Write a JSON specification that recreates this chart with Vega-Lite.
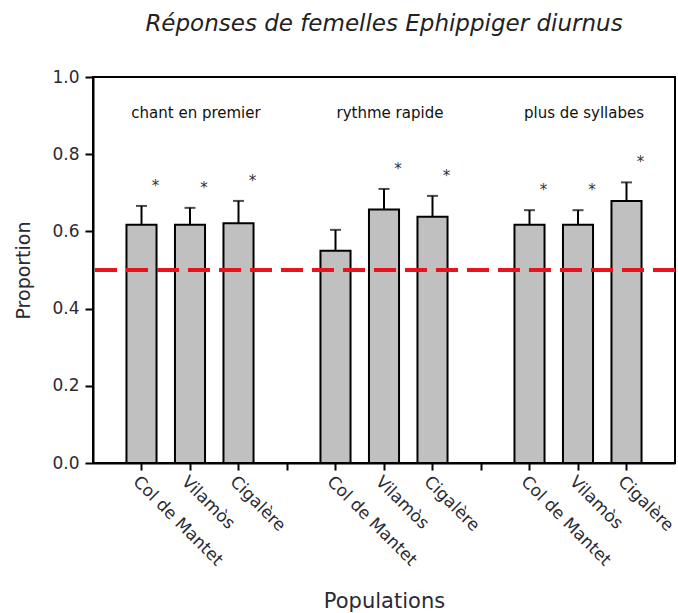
{
  "$schema": "https://vega.github.io/schema/vega-lite/v6.json",
  "width": 582,
  "height": 386,
  "autosize": {"type": "none"},
  "padding": {"left": 93, "top": 77, "right": 3, "bottom": 150},
  "title": {
    "text": "Réponses de femelles Ephippiger diurnus",
    "font": "DejaVu Sans",
    "fontSize": 23,
    "fontStyle": "italic",
    "fontWeight": "normal",
    "color": "#222222",
    "anchor": "middle",
    "offset": 32
  },
  "config": {
    "font": "DejaVu Sans",
    "view": {"stroke": "#000000", "strokeWidth": 2},
    "axis": {
      "grid": false,
      "domainColor": "#000000",
      "domainWidth": 2,
      "tickColor": "#000000",
      "tickWidth": 2,
      "labelColor": "#2a2a33",
      "titleColor": "#2a2a33",
      "titleFontWeight": "normal",
      "labelFont": "DejaVu Sans",
      "titleFont": "DejaVu Sans"
    }
  },
  "data": {
    "values": [
      {"bar": "chant en premier|Col de Mantet", "trait": "chant en premier", "population": "Col de Mantet", "proportion": 0.617, "upper": 0.666, "sig": "*"},
      {"bar": "chant en premier|Vilamòs", "trait": "chant en premier", "population": "Vilamòs", "proportion": 0.617, "upper": 0.661, "sig": "*"},
      {"bar": "chant en premier|Cigalère", "trait": "chant en premier", "population": "Cigalère", "proportion": 0.621, "upper": 0.679, "sig": "*"},
      {"bar": "rythme rapide|Col de Mantet", "trait": "rythme rapide", "population": "Col de Mantet", "proportion": 0.55, "upper": 0.604, "sig": ""},
      {"bar": "rythme rapide|Vilamòs", "trait": "rythme rapide", "population": "Vilamòs", "proportion": 0.657, "upper": 0.71, "sig": "*"},
      {"bar": "rythme rapide|Cigalère", "trait": "rythme rapide", "population": "Cigalère", "proportion": 0.638, "upper": 0.692, "sig": "*"},
      {"bar": "plus de syllabes|Col de Mantet", "trait": "plus de syllabes", "population": "Col de Mantet", "proportion": 0.617, "upper": 0.655, "sig": "*"},
      {"bar": "plus de syllabes|Vilamòs", "trait": "plus de syllabes", "population": "Vilamòs", "proportion": 0.617, "upper": 0.655, "sig": "*"},
      {"bar": "plus de syllabes|Cigalère", "trait": "plus de syllabes", "population": "Cigalère", "proportion": 0.679, "upper": 0.727, "sig": "*"}
    ]
  },
  "layer": [
    {
      "mark": {"type": "rule", "color": "#000000", "strokeWidth": 2},
      "encoding": {
        "x": {"field": "bar", "type": "nominal", "sort": null,
          "scale": {"domain": ["chant en premier|Col de Mantet", "chant en premier|Vilamòs", "chant en premier|Cigalère", "gap 1", "rythme rapide|Col de Mantet", "rythme rapide|Vilamòs", "rythme rapide|Cigalère", "gap 2", "plus de syllabes|Col de Mantet", "plus de syllabes|Vilamòs", "plus de syllabes|Cigalère"], "paddingInner": 0.38, "paddingOuter": 0.69}},
        "y": {"field": "proportion", "type": "quantitative"},
        "y2": {"field": "upper"}
      }
    },
    {
      "mark": {"type": "tick", "color": "#000000", "thickness": 2, "size": 11},
      "encoding": {
        "x": {"field": "bar", "type": "nominal", "sort": null,
          "scale": {"domain": ["chant en premier|Col de Mantet", "chant en premier|Vilamòs", "chant en premier|Cigalère", "gap 1", "rythme rapide|Col de Mantet", "rythme rapide|Vilamòs", "rythme rapide|Cigalère", "gap 2", "plus de syllabes|Col de Mantet", "plus de syllabes|Vilamòs", "plus de syllabes|Cigalère"], "paddingInner": 0.38, "paddingOuter": 0.69}},
        "y": {"field": "upper", "type": "quantitative"}
      }
    },
    {
      "mark": {"type": "bar", "fill": "#c0c0c0", "stroke": "#000000", "strokeWidth": 2},
      "encoding": {
        "x": {"field": "bar", "type": "nominal", "sort": null,
          "scale": {"domain": ["chant en premier|Col de Mantet", "chant en premier|Vilamòs", "chant en premier|Cigalère", "gap 1", "rythme rapide|Col de Mantet", "rythme rapide|Vilamòs", "rythme rapide|Cigalère", "gap 2", "plus de syllabes|Col de Mantet", "plus de syllabes|Vilamòs", "plus de syllabes|Cigalère"], "paddingInner": 0.38, "paddingOuter": 0.69},
          "axis": {
            "title": "Populations",
            "titleFontSize": 21,
            "titleY": 144,
            "titleBaseline": "alphabetic",
            "labelAngle": 45,
            "labelAlign": "left",
            "labelBaseline": "top",
            "labelFontSize": 17,
            "labelPadding": 3,
            "labelLimit": 300,
            "tickSize": 7,
            "labelExpr": "indexof(datum.value, '|') >= 0 ? slice(datum.value, indexof(datum.value, '|') + 1) : ''"
          }},
        "y": {"field": "proportion", "type": "quantitative",
          "scale": {"domain": [0, 1], "nice": false},
          "axis": {
            "title": "Proportion",
            "titleFontSize": 19,
            "titleX": -64,
            "titleBaseline": "alphabetic",
            "values": [0, 0.2, 0.4, 0.6, 0.8, 1],
            "format": ".1f",
            "labelFontSize": 17,
            "labelPadding": 6,
            "tickSize": 8
          }}
      }
    },
    {
      "mark": {"type": "text", "fontSize": 15, "color": "#333333", "baseline": "middle", "align": "center", "dx": 14, "dy": -20},
      "encoding": {
        "x": {"field": "bar", "type": "nominal", "sort": null,
          "scale": {"domain": ["chant en premier|Col de Mantet", "chant en premier|Vilamòs", "chant en premier|Cigalère", "gap 1", "rythme rapide|Col de Mantet", "rythme rapide|Vilamòs", "rythme rapide|Cigalère", "gap 2", "plus de syllabes|Col de Mantet", "plus de syllabes|Vilamòs", "plus de syllabes|Cigalère"], "paddingInner": 0.38, "paddingOuter": 0.69}},
        "y": {"field": "upper", "type": "quantitative"},
        "text": {"field": "sig"}
      }
    },
    {
      "transform": [{"filter": "datum.population === 'Vilamòs'"}],
      "mark": {"type": "text", "fontSize": 15, "color": "#111111", "baseline": "alphabetic", "align": "center", "dx": 6},
      "encoding": {
        "x": {"field": "bar", "type": "nominal", "sort": null,
          "scale": {"domain": ["chant en premier|Col de Mantet", "chant en premier|Vilamòs", "chant en premier|Cigalère", "gap 1", "rythme rapide|Col de Mantet", "rythme rapide|Vilamòs", "rythme rapide|Cigalère", "gap 2", "plus de syllabes|Col de Mantet", "plus de syllabes|Vilamòs", "plus de syllabes|Cigalère"], "paddingInner": 0.38, "paddingOuter": 0.69}},
        "y": {"datum": 0.895, "type": "quantitative"},
        "text": {"field": "trait"}
      }
    },
    {
      "mark": {"type": "rule", "color": "#e8141b", "strokeWidth": 4, "strokeDash": [22, 9]},
      "encoding": {
        "y": {"datum": 0.5, "type": "quantitative"}
      }
    }
  ]
}
